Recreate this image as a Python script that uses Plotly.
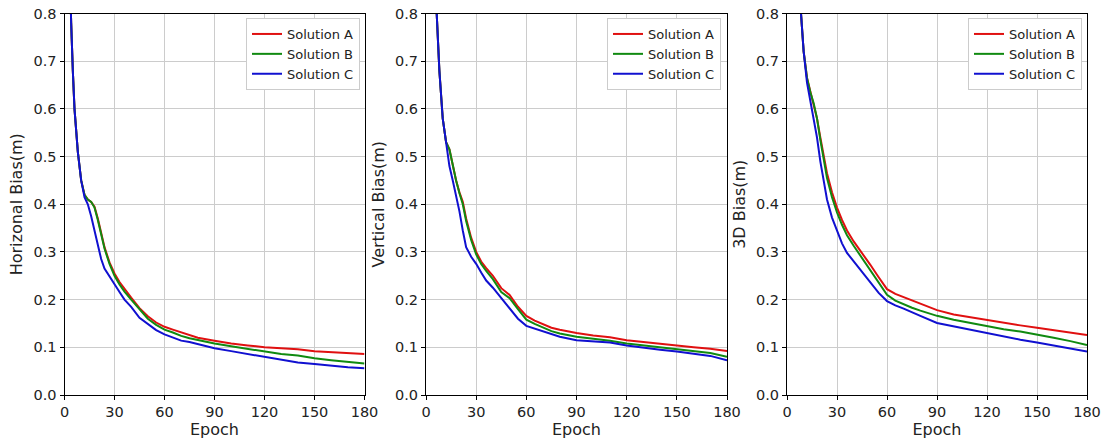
import plotly.graph_objects as go

epochs = [0,1,2,3,4,5,6,8,10,12,14,16,18,20,22,24,27,30,33,36,40,45,50,55,60,65,70,75,80,90,100,110,120,130,140,150,160,170,180]

h_a = [1.35,1.2,1.05,0.9,0.78,0.68,0.6,0.51,0.45,0.42,0.41,0.405,0.395,0.37,0.34,0.31,0.278,0.255,0.237,0.222,0.204,0.182,0.165,0.152,0.143,0.137,0.131,0.125,0.12,0.114,0.108,0.104,0.100,0.098,0.096,0.092,0.09,0.088,0.086]
h_b = [1.35,1.2,1.05,0.9,0.78,0.68,0.6,0.51,0.45,0.42,0.41,0.405,0.393,0.367,0.337,0.307,0.275,0.25,0.232,0.217,0.2,0.179,0.16,0.147,0.137,0.131,0.124,0.119,0.115,0.108,0.102,0.097,0.091,0.086,0.083,0.077,0.073,0.069,0.066]
h_c = [1.35,1.2,1.05,0.9,0.78,0.68,0.6,0.51,0.45,0.415,0.4,0.375,0.345,0.31,0.285,0.265,0.248,0.232,0.216,0.2,0.185,0.162,0.148,0.136,0.127,0.12,0.114,0.111,0.107,0.098,0.092,0.086,0.079,0.073,0.068,0.065,0.061,0.058,0.056]

v_a = [1.6,1.45,1.3,1.15,1.02,0.92,0.83,0.68,0.58,0.53,0.515,0.48,0.45,0.425,0.405,0.37,0.33,0.3,0.28,0.266,0.25,0.224,0.21,0.185,0.166,0.156,0.148,0.141,0.137,0.13,0.125,0.121,0.115,0.111,0.108,0.104,0.1,0.097,0.092]
v_b = [1.6,1.45,1.3,1.15,1.02,0.92,0.83,0.68,0.58,0.53,0.515,0.48,0.45,0.423,0.4,0.365,0.325,0.295,0.275,0.26,0.243,0.216,0.203,0.18,0.158,0.149,0.141,0.134,0.129,0.122,0.118,0.114,0.108,0.104,0.1,0.097,0.093,0.088,0.08]
v_c = [1.6,1.45,1.3,1.15,1.02,0.92,0.83,0.68,0.58,0.525,0.48,0.45,0.42,0.385,0.345,0.31,0.29,0.275,0.257,0.24,0.225,0.203,0.182,0.16,0.145,0.139,0.134,0.128,0.122,0.115,0.113,0.11,0.104,0.099,0.095,0.091,0.087,0.082,0.073]

d_a = [1.9,1.75,1.6,1.45,1.3,1.17,1.05,0.82,0.72,0.665,0.635,0.61,0.58,0.54,0.5,0.465,0.425,0.393,0.367,0.345,0.322,0.298,0.273,0.247,0.222,0.212,0.205,0.198,0.191,0.178,0.169,0.163,0.157,0.151,0.146,0.141,0.136,0.131,0.126]
d_b = [1.9,1.75,1.6,1.45,1.3,1.17,1.05,0.82,0.72,0.665,0.635,0.612,0.58,0.535,0.495,0.455,0.415,0.383,0.357,0.335,0.313,0.287,0.26,0.235,0.21,0.198,0.19,0.183,0.177,0.166,0.158,0.151,0.145,0.138,0.133,0.127,0.12,0.113,0.105]
d_c = [1.9,1.75,1.6,1.45,1.3,1.17,1.05,0.82,0.72,0.655,0.615,0.58,0.54,0.49,0.445,0.41,0.372,0.343,0.318,0.298,0.28,0.258,0.236,0.214,0.197,0.188,0.181,0.174,0.166,0.151,0.144,0.137,0.13,0.122,0.116,0.11,0.104,0.097,0.091]

names = ["Solution A", "Solution B", "Solution C"]
colors = ["#e01010", "#108a10", "#1010d0"]
y_titles = ["Horizonal Bias(m)", "Vertical Bias(m)", "3D Bias(m)"]
x_ticks = [0, 30, 60, 90, 120, 150, 180]
y_ticks = [0.0, 0.1, 0.2, 0.3, 0.4, 0.5, 0.6, 0.7, 0.8]

panels = [[h_a, h_b, h_c], [v_a, v_b, v_c], [d_a, d_b, d_c]]

W, H = 1108, 443
def fx(px):
    return px / W
def fy(py):
    return (H - py) / H

x_domains = [[fx(64.5), fx(364.5)], [fx(426), fx(727)], [fx(787), fx(1087)]]
y_domain = [fy(395), fy(13.5)]
legend_right = [fx(360), fx(721), fx(1082)]
legend_top = fy(18)

fig = go.Figure()
for p, series in enumerate(panels):
    xa = "x" if p == 0 else f"x{p+1}"
    ya = "y" if p == 0 else f"y{p+1}"
    lg = "legend" if p == 0 else f"legend{p+1}"
    for s, vals in enumerate(series):
        fig.add_trace(go.Scatter(
            x=epochs, y=vals, mode="lines", name=names[s],
            line=dict(color=colors[s], width=2),
            xaxis=xa, yaxis=ya, legend=lg, showlegend=True,
        ))

font_family = "DejaVu Sans"
text_color = "#222222"
layout = dict(
    width=W, height=H,
    margin=dict(l=0, r=0, t=0, b=0),
    paper_bgcolor="white", plot_bgcolor="white",
    font=dict(family=font_family, size=14, color=text_color),
)
for p in range(3):
    xk = "xaxis" if p == 0 else f"xaxis{p+1}"
    yk = "yaxis" if p == 0 else f"yaxis{p+1}"
    xa_anchor = "y" if p == 0 else f"y{p+1}"
    ya_anchor = "x" if p == 0 else f"x{p+1}"
    layout[xk] = dict(
        domain=x_domains[p], anchor=xa_anchor, range=[0, 180], automargin=False,
        tickvals=x_ticks, ticks="outside", ticklen=4, tickcolor="black",
        showline=True, linecolor="black", linewidth=1, mirror=True,
        showgrid=True, gridcolor="#cccccc", gridwidth=1.3, zeroline=False,
        tickfont=dict(size=14.5, color=text_color), ticklabeloverflow="allow",
        title=dict(text="Epoch", font=dict(size=16, color=text_color), standoff=2),
    )
    layout[yk] = dict(
        domain=y_domain, anchor=ya_anchor, range=[0, 0.8], automargin=False,
        tickvals=y_ticks, tickformat=".1f", ticks="outside", ticklen=4, tickcolor="black",
        showline=True, linecolor="black", linewidth=1, mirror=True,
        showgrid=True, gridcolor="#cccccc", gridwidth=1.3, zeroline=False,
        tickfont=dict(size=14.5, color=text_color), ticklabeloverflow="allow",
        title=dict(text=y_titles[p], font=dict(size=16, color=text_color), standoff=6),
    )
    lk = "legend" if p == 0 else f"legend{p+1}"
    layout[lk] = dict(
        x=legend_right[p], xanchor="right", xref="paper",
        y=legend_top, yanchor="top", yref="paper",
        bgcolor="white", bordercolor="#cccccc", borderwidth=1,
        font=dict(size=13, color=text_color), tracegroupgap=0,
        itemwidth=30,
    )
fig.update_layout(**layout)
fig.write_html("out.html", config={"displayModeBar": False},
               post_script="document.body.style.margin='0';")
